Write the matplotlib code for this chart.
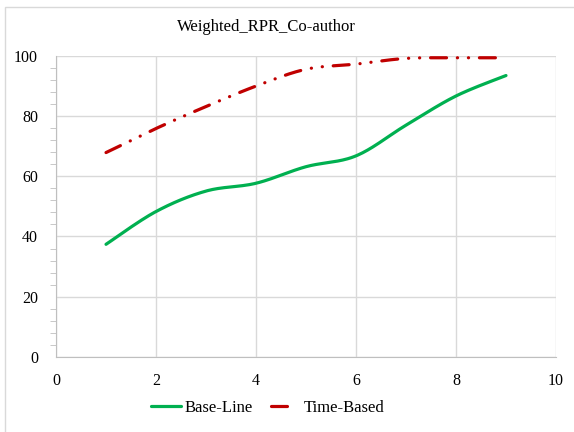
import numpy as np
import matplotlib.pyplot as plt
from matplotlib.patches import Rectangle
from matplotlib.ticker import MultipleLocator

x_values = [1, 2, 3, 4, 5, 6, 7, 8, 9]
base_line = [37.4, 48.3, 55.1, 57.7, 63.2, 66.8, 77.0, 86.7, 93.5]
time_based = [67.9, 75.9, 83.2, 90.0, 95.6, 97.3, 99.2, 99.4, 99.4]

TITLE = 'Weighted_RPR_Co-author'
GREEN = '#00b050'
RED = '#c00000'
GRID = '#d9d9d9'


def smooth(xs, ys, steps=30):
    # catmull-rom style curve through the points, like excel's smoothed line
    xs = np.asarray(xs, float)
    ys = np.asarray(ys, float)
    px = np.concatenate([[xs[0]], xs, [xs[-1]]])
    py = np.concatenate([[ys[0]], ys, [ys[-1]]])
    out_x, out_y = [], []
    for i in range(1, len(px) - 2):
        t = np.linspace(0, 1, steps, endpoint=False)
        for arr, out in ((px, out_x), (py, out_y)):
            p0, p1, p2, p3 = arr[i - 1], arr[i], arr[i + 1], arr[i + 2]
            m1 = (p2 - p0) / 6
            m2 = (p3 - p1) / 6
            c1, c2 = p1 + m1, p2 - m2
            out.extend((1 - t) ** 3 * p1 + 3 * (1 - t) ** 2 * t * c1
                       + 3 * (1 - t) * t ** 2 * c2 + t ** 3 * p2)
    out_x.append(xs[-1])
    out_y.append(ys[-1])
    return out_x, out_y


plt.rcParams['font.family'] = ['Liberation Serif', 'DejaVu Serif']

fig = plt.figure(figsize=(5.74, 4.32), dpi=100)
fig.patches.append(Rectangle((5 / 574, -0.1), 1.2, 1 - 7 / 432 + 0.1,
                             transform=fig.transFigure, fill=False,
                             edgecolor='#d9d9d9', linewidth=1))
ax = fig.add_axes([0.0976, 0.174, 0.871, 0.6964])

bx, by = smooth(x_values, base_line)
tx, ty = smooth(x_values, time_based)
ax.plot(bx, by, color=GREEN, linewidth=2.3, label='Base-Line',
        solid_capstyle='round')
ax.plot(tx, ty, color=RED, linewidth=2.3, label='Time-Based',
        dashes=(5.0, 3.4, 0.05, 3.4, 0.05, 3.4), dash_capstyle='round')

ax.set_xlim(0, 10)
ax.set_ylim(0, 100)
ax.xaxis.set_major_locator(MultipleLocator(2))
ax.yaxis.set_major_locator(MultipleLocator(20))
ax.yaxis.set_minor_locator(MultipleLocator(4))
ax.grid(True, color=GRID, linewidth=1)
ax.set_axisbelow(True)
for side in ['top', 'right']:
    ax.spines[side].set_visible(False)
for side in ['left', 'bottom']:
    ax.spines[side].set_color('#bfbfbf')
ax.tick_params(axis='both', which='major', length=0, labelsize=11.5)
ax.tick_params(axis='y', which='major', pad=13)
ax.tick_params(axis='x', which='major', pad=12)
ax.tick_params(axis='y', which='minor', length=4, color='#bfbfbf')

fig.text(266 / 574, 1 - 27 / 432, TITLE, fontsize=12, ha='center',
         va='center')
leg = fig.legend(loc='center', bbox_to_anchor=(268 / 574, 1 - 408 / 432),
                 ncol=2, frameon=False, fontsize=12, handlelength=1.8,
                 columnspacing=1.1, handletextpad=0.2)
leg.get_lines()[1].set_dashes((5.0, 20))

fig.savefig('out.png', dpi=100)
